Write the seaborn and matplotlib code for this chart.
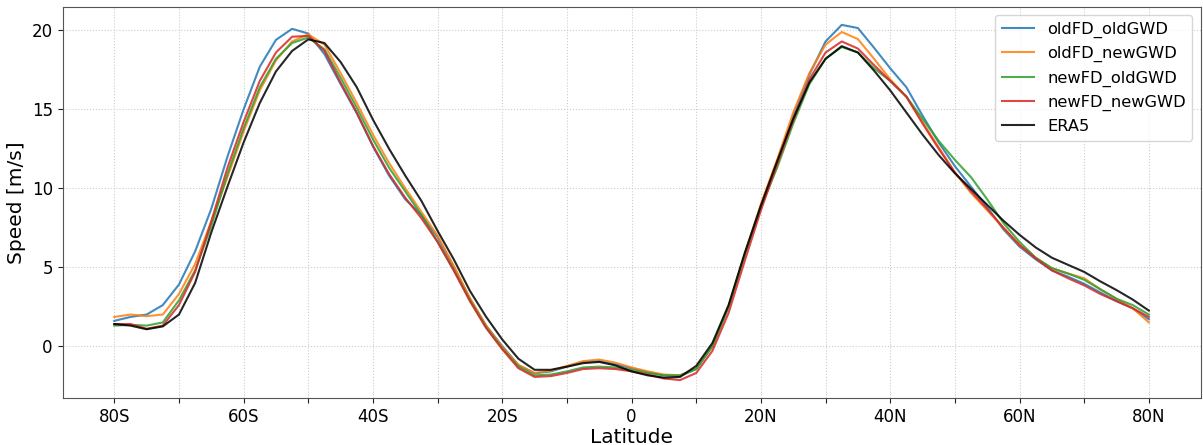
import numpy as np
import pandas as pd
import matplotlib
matplotlib.use("Agg")
import matplotlib.pyplot as plt
import seaborn as sns

# latitude grid (deg, negative = south)
lat = np.arange(-80, 80.1, 2.5)

# zonal-mean wind speed [m/s]
era5 = [1.4, 1.3, 1.07, 1.25, 2.0, 4.0, 7.2, 10.1, 12.9, 15.4, 17.4, 18.7, 19.43,
        19.2, 18.0, 16.4, 14.35, 12.5, 10.8, 9.2, 7.3, 5.5, 3.5, 1.86, 0.42,
        -0.8, -1.5, -1.5, -1.3, -1.08, -1.0, -1.22, -1.6, -1.85, -2.0, -1.95, -1.25,
        0.2, 2.6, 5.9, 8.9, 11.7, 14.4, 16.7, 18.2, 19.0, 18.6, 17.45, 16.2,
        14.8, 13.4, 12.1, 10.95, 9.95, 8.95, 7.95, 7.05, 6.25, 5.6, 5.15, 4.7,
        4.1, 3.55, 2.95, 2.25]

old_fd_old_gwd = [1.6, 1.85, 2.0, 2.6, 3.9, 6.0, 8.7, 12.0, 15.0, 17.7, 19.4, 20.1, 19.8,
                  18.5, 16.6, 14.75, 12.65, 10.8, 9.3, 8.3, 6.9, 5.0, 3.0, 1.3, 0.0,
                  -1.2, -1.72, -1.6, -1.3, -1.0, -0.95, -1.15, -1.4, -1.65, -1.85, -1.9, -1.45,
                  0.0, 2.5, 5.8, 8.9, 11.6, 14.6, 17.2, 19.3, 20.35, 20.15, 18.9, 17.6,
                  16.4, 14.6, 12.9, 11.4, 10.1, 8.8, 7.4, 6.3, 5.5, 4.8, 4.4, 3.95,
                  3.4, 2.85, 2.4, 1.7]

old_fd_new_gwd = [1.85, 2.0, 1.9, 2.0, 3.3, 5.2, 7.9, 10.7, 13.6, 16.2, 18.1, 19.3, 19.75,
                  19.1, 17.3, 15.4, 13.4, 11.6, 10.0, 8.5, 7.0, 5.1, 3.05, 1.3, -0.05,
                  -1.2, -1.7, -1.55, -1.25, -0.95, -0.85, -1.05, -1.35, -1.6, -1.8, -1.85, -1.4,
                  0.0, 2.5, 5.8, 9.0, 11.8, 14.8, 17.3, 19.1, 19.9, 19.45, 18.2, 16.9,
                  15.8, 14.2, 12.6, 11.0, 9.7, 8.6, 7.5, 6.4, 5.6, 4.9, 4.6, 4.3,
                  3.6, 3.0, 2.4, 1.5]

new_fd_old_gwd = [1.3, 1.35, 1.3, 1.5, 2.9, 4.8, 7.6, 10.9, 13.8, 16.4, 18.2, 19.2, 19.55,
                  18.8, 17.0, 15.1, 13.1, 11.3, 9.8, 8.3, 6.6, 4.8, 2.9, 1.2, -0.15,
                  -1.3, -1.85, -1.8, -1.6, -1.35, -1.3, -1.35, -1.5, -1.7, -1.85, -1.85, -1.45,
                  0.0, 2.5, 5.8, 8.8, 11.3, 14.1, 16.6, 18.2, 18.95, 18.6, 17.6, 16.8,
                  15.8, 14.4, 13.0, 11.8, 10.7, 9.3, 7.8, 6.6, 5.6, 4.95, 4.6, 4.2,
                  3.6, 3.0, 2.6, 2.0]

new_fd_new_gwd = [1.4, 1.4, 1.1, 1.3, 2.6, 4.7, 7.9, 11.3, 14.2, 16.8, 18.6, 19.6, 19.65,
                  18.7, 16.7, 14.8, 12.7, 10.9, 9.4, 8.1, 6.6, 4.8, 2.85, 1.15, -0.2,
                  -1.4, -1.95, -1.9, -1.7, -1.45, -1.4, -1.45, -1.6, -1.8, -2.05, -2.15, -1.7,
                  -0.3, 2.1, 5.4, 8.6, 11.5, 14.3, 16.9, 18.6, 19.3, 18.85, 17.8, 16.8,
                  15.8, 14.1, 12.5, 11.0, 9.8, 8.7, 7.5, 6.4, 5.55, 4.8, 4.3, 3.85,
                  3.3, 2.85, 2.4, 1.85]

run_names = ["oldFD_oldGWD", "oldFD_newGWD", "newFD_oldGWD", "newFD_newGWD", "ERA5"]
run_values = [old_fd_old_gwd, old_fd_new_gwd, new_fd_old_gwd, new_fd_new_gwd, era5]
run_colors = ["#1f77b4", "#ff7f0e", "#2ca02c", "#d62728", "black"]

tick_pos = np.arange(-80, 81, 10)
tick_labels = ["80S", "", "60S", "", "40S", "", "20S", "", "0",
               "", "20N", "", "40N", "", "60N", "", "80N"]

# long-form table for seaborn
rows = []
for name, vals in zip(run_names, run_values):
    for la, v in zip(lat, vals):
        rows.append({"Latitude": la, "Speed": v, "Run": name})
df = pd.DataFrame(rows)

fig, ax = plt.subplots(figsize=(12.03, 4.45), dpi=100)
sns.lineplot(data=df, x="Latitude", y="Speed", hue="Run", hue_order=run_names,
             palette=run_colors, linewidth=1.5, alpha=0.85, ax=ax)

ax.set_xticks(tick_pos)
ax.set_xticklabels(tick_labels, fontsize=12)
ax.set_yticks([0, 5, 10, 15, 20])
ax.tick_params(axis="y", labelsize=12)
ax.tick_params(colors="#222222", labelcolor="black")
ax.grid(True, linestyle=":", color="#cccccc", linewidth=0.8)
ax.set_xlabel("Latitude", fontsize=14.5, labelpad=2)
ax.set_ylabel("Speed [m/s]", fontsize=14.5)
for sp in ax.spines.values():
    sp.set_color("#555555")

sns.move_legend(ax, "upper right", title=None, fontsize=11.7)

plt.subplots_adjust(left=0.052, right=0.998, top=0.984, bottom=0.106)
plt.savefig("out.png", dpi=100)
